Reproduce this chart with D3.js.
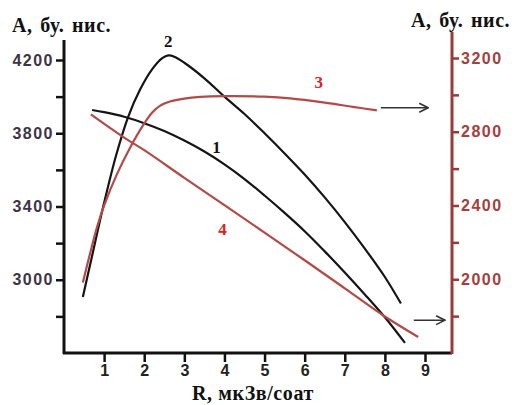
<!DOCTYPE html>
<html lang="uz">
<head>
  <meta charset="UTF-8" />
  <title>A(R)</title>
  <script src="https://d3js.org/d3.v7.min.js"></script>
  <style>
    body { margin: 0; background: #fff; }
    svg { display: block; font-family: "Liberation Serif", "DejaVu Serif", serif; font-weight: bold; }
    .curve { fill: none; stroke-width: 2.2px; }
    .black { stroke: #151515; }
    .red { stroke: #b24a48; }
    .tick-l text { fill: #3e3446; font-size: 16px; letter-spacing: 1.5px; }
    .tick-r text { fill: #a2403e; font-size: 16px; letter-spacing: 1.5px; }
    .tick-x text { fill: #222; font-size: 16px; }
    .title { font-size: 20px; word-spacing: 2px; letter-spacing: 0.6px; fill: #111; }
  </style>
</head>
<body>
<svg width="519" height="405"></svg>
<script>
// R, мкЗв/соат
const xTicks = [1, 2, 3, 4, 5, 6, 7, 8, 9];
const leftTicks = [2800, 3000, 3200, 3400, 3600, 3800, 4000, 4200];
const leftLabels = [3000, 3400, 3800, 4200];
const rightTicks = [1800, 2000, 2200, 2400, 2600, 2800, 3000, 3200];
const rightLabels = [2000, 2400, 2800, 3200];

// curve 1 (black, left axis)
const r1 = [0.7, 1.0, 1.5, 2.0, 2.5, 3.0, 3.5, 4.0, 4.5, 5.0, 5.5, 6.0, 6.5, 7.0, 7.5, 8.0, 8.5];
const a1 = [3927, 3915, 3890, 3855, 3812, 3760, 3700, 3630, 3550, 3460, 3365, 3265, 3155, 3040, 2920, 2795, 2655];

// curve 2 (black, left axis)
const r2 = [0.47, 0.7, 1.0, 1.3, 1.6, 1.9, 2.2, 2.45, 2.6, 2.75, 3.0, 3.5, 4.0, 4.5, 5.0, 5.5, 6.0, 6.5, 7.0, 7.5, 8.0, 8.4];
const a2 = [2906, 3130, 3420, 3680, 3890, 4040, 4150, 4210, 4225, 4218, 4185, 4100, 4000, 3905, 3800, 3690, 3575, 3450, 3315, 3170, 3015, 2870];

// curve 3 (red, right axis)
const r3 = [0.47, 0.65, 0.82, 1.0, 1.32, 1.65, 1.97, 2.2, 2.4, 2.64, 3.0, 3.4, 4.0, 5.0, 5.64, 6.5, 7.2, 7.8];
const a3 = [1982, 2140, 2280, 2400, 2570, 2715, 2835, 2905, 2942, 2964, 2980, 2989, 2993, 2990, 2981, 2958, 2935, 2916];

// curve 4 (red, right axis)
const r4 = [0.67, 1.5, 2.0, 3.0, 4.0, 5.0, 6.0, 7.0, 8.0, 8.83];
const a4 = [2894, 2768, 2700, 2550, 2402, 2253, 2103, 1951, 1798, 1687];

const svg = d3.select("svg");

const x = d3.scaleLinear().domain([0, 9]).range([64, 425]);
const yL = d3.scaleLinear().domain([2600, 4200]).range([353, 60]);
const yR = d3.scaleLinear().domain([1600, 3200]).range([353, 58]);

const axisColor = "#9c3a3a";

// осьлар
const gx = svg.append("g").attr("class", "tick-x")
  .attr("transform", "translate(0,353)")
  .call(d3.axisBottom(x).tickValues(xTicks).tickSize(9).tickSizeOuter(0).tickPadding(3));
gx.select(".domain").remove();
gx.selectAll(".tick line").attr("stroke", "#111").attr("stroke-width", 2.5);

const gl = svg.append("g").attr("class", "tick-l")
  .attr("transform", "translate(64,0)")
  .call(d3.axisLeft(yL).tickValues(leftTicks).tickSize(8).tickPadding(2)
    .tickFormat(d => leftLabels.includes(d) ? d : ""));
gl.select(".domain").remove();
gl.selectAll(".tick line").attr("stroke", "#111").attr("stroke-width", 2.5);

const gr = svg.append("g").attr("class", "tick-r")
  .attr("transform", "translate(452,0)")
  .call(d3.axisRight(yR).tickValues(rightTicks).tickSize(7).tickPadding(2)
    .tickFormat(d => rightLabels.includes(d) ? d : ""));
gr.select(".domain").remove();
gr.selectAll(".tick line").attr("stroke", axisColor).attr("stroke-width", 2.5);

svg.append("line").attr("x1", 64).attr("x2", 64).attr("y1", 40).attr("y2", 354)
  .attr("stroke", "#111").attr("stroke-width", 3);
svg.append("line").attr("x1", 63).attr("x2", 452).attr("y1", 353).attr("y2", 353)
  .attr("stroke", "#111").attr("stroke-width", 3);
svg.append("line").attr("x1", 452).attr("x2", 452).attr("y1", 32).attr("y2", 354)
  .attr("stroke", axisColor).attr("stroke-width", 3);

// эгри чизиқлар
const line = yScale => d3.line()
  .x(d => x(d[0])).y(d => yScale(d[1]))
  .curve(d3.curveCatmullRom.alpha(0.5));

const curves = [
  { r: r1, a: a1, y: yL, cls: "black" },
  { r: r2, a: a2, y: yL, cls: "black" },
  { r: r3, a: a3, y: yR, cls: "red" },
  { r: r4, a: a4, y: yR, cls: "red" }
];

svg.selectAll(".curve")
  .data(curves)
  .join("path")
  .attr("class", d => "curve " + d.cls)
  .attr("d", d => line(d.y)(d.r.map((v, i) => [v, d.a[i]])));

// рақамлар
const numLabels = [
  { t: "2", r: 2.6, a: 4270, y: yL, c: "#111" },
  { t: "1", r: 3.8, a: 3690, y: yL, c: "#111" },
  { t: "3", r: 6.35, a: 3040, y: yR, c: "#e0201c" },
  { t: "4", r: 3.95, a: 2240, y: yR, c: "#e0201c" }
];
svg.selectAll(".num")
  .data(numLabels)
  .join("text")
  .attr("class", "num")
  .attr("x", d => x(d.r))
  .attr("y", d => d.y(d.a))
  .attr("text-anchor", "middle")
  .attr("font-size", 17)
  .attr("fill", d => d.c)
  .text(d => d.t);

// стрелкалар
svg.append("defs").append("marker")
  .attr("id", "arr").attr("viewBox", "0 0 10 10")
  .attr("refX", 9).attr("refY", 5)
  .attr("markerWidth", 7).attr("markerHeight", 7)
  .attr("orient", "auto")
  .append("path").attr("d", "M1,1 L9,5 L1,9")
  .attr("fill", "none").attr("stroke", "#333").attr("stroke-width", 1.4);

const arrows = [
  { r0: 7.9, r1: 9.08, a: 2930 },
  { r0: 8.72, r1: 9.5, a: 1778 }
];
svg.selectAll(".arrow")
  .data(arrows)
  .join("line")
  .attr("class", "arrow")
  .attr("x1", d => x(d.r0)).attr("x2", d => x(d.r1))
  .attr("y1", d => yR(d.a)).attr("y2", d => yR(d.a))
  .attr("stroke", "#333").attr("stroke-width", 1.6)
  .attr("marker-end", "url(#arr)");

// сарлавҳалар
svg.append("text").attr("class", "title").attr("x", 12).attr("y", 32)
  .text("A, бу. нис.");
svg.append("text").attr("class", "title").attr("x", 411).attr("y", 27)
  .text("A, бу. нис.");
svg.append("text").attr("class", "title").attr("x", 253).attr("y", 400)
  .attr("text-anchor", "middle").style("word-spacing", "0px")
  .text("R, мкЗв/соат");
</script>
</body>
</html>
